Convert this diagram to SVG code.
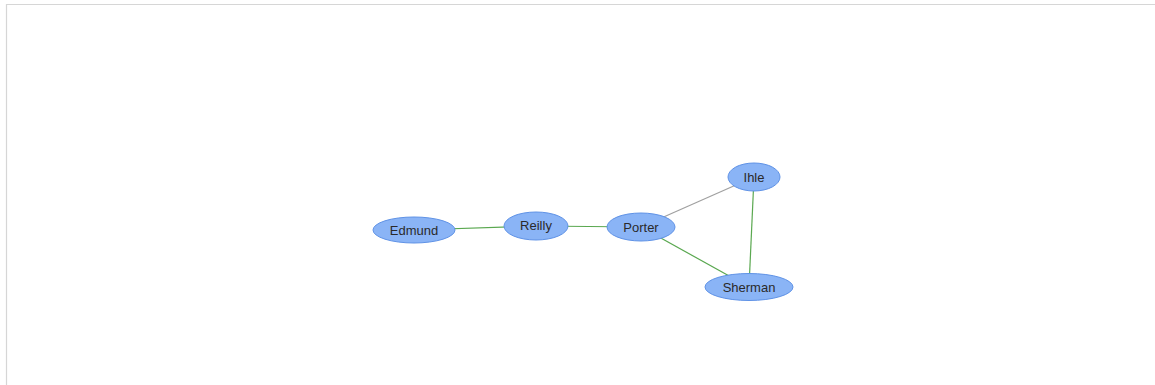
<svg xmlns="http://www.w3.org/2000/svg" width="1155" height="385" viewBox="0 0 1155 385">
<style>
.node ellipse{fill:#8ab4f6;stroke:#5f92e6;stroke-width:1}
.node text{font-family:"Liberation Sans",Arial,sans-serif;font-size:13px;fill:#2a2a2a;text-anchor:middle;dominant-baseline:central}
.e{stroke-width:1.2;fill:none}
.g{stroke:#5aa850}
.s{stroke:#a0a0a0}
</style>
<rect x="0" y="0" width="1155" height="385" fill="#fff"/>
<path d="M6.5 385V4.5H1155" fill="none" stroke="#d6d6d6" stroke-width="1.2"/>
<g id="connectors">
<line class="e g" x1="414" y1="230" x2="536" y2="226"/>
<line class="e g" x1="536" y1="226" x2="641" y2="227"/>
<line class="e s" x1="641" y1="227" x2="754" y2="177"/>
<line class="e g" x1="754" y1="177" x2="749" y2="287"/>
<line class="e g" x1="641" y1="227" x2="749" y2="287"/>
</g>
<g id="Edmund" class="node"><ellipse cx="414" cy="230" rx="41" ry="13"/><text x="414" y="230">Edmund</text></g>
<g id="Reilly" class="node"><ellipse cx="536" cy="226" rx="32" ry="14"/><text x="536" y="225">Reilly</text></g>
<g id="Porter" class="node"><ellipse cx="641" cy="227" rx="34" ry="14"/><text x="641" y="227">Porter</text></g>
<g id="Ihle" class="node"><ellipse cx="754" cy="177" rx="26" ry="14"/><text x="754" y="177">Ihle</text></g>
<g id="Sherman" class="node"><ellipse cx="749" cy="287" rx="44" ry="13.5"/><text x="749" y="287">Sherman</text></g>
</svg>
